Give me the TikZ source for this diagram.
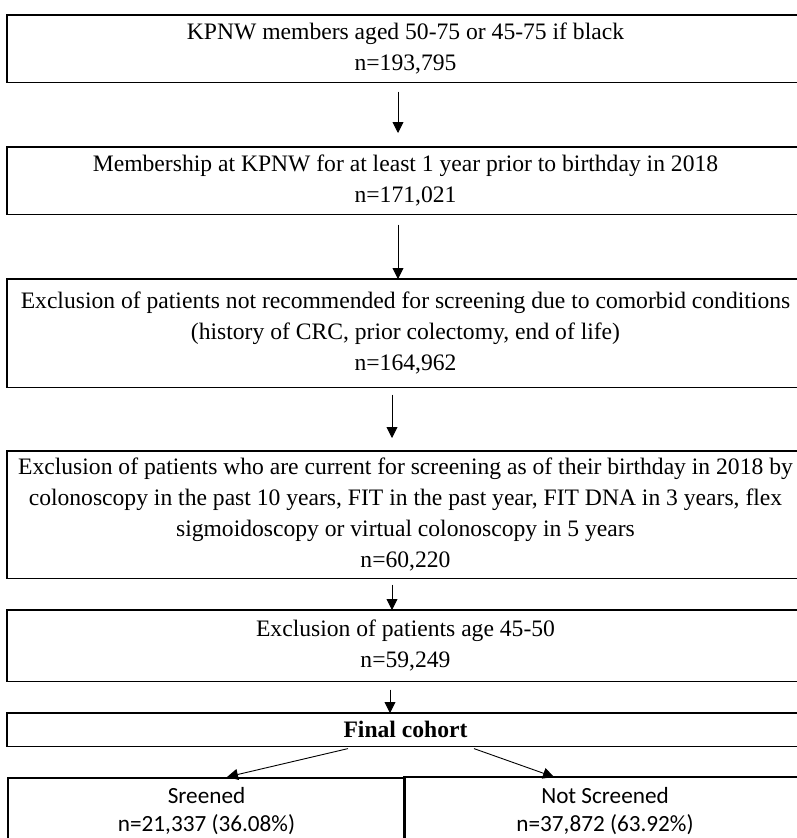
\documentclass[tikz,border=0pt]{standalone}
\usepackage{fontspec}
\setmainfont{Liberation Serif}
\newfontfamily\calibrifont{Carlito}
\usetikzlibrary{arrows.meta}
\begin{document}
\begin{tikzpicture}[x=1pt,y=-1pt]
\tikzset{
  flowbox/.style={line width=1.6pt, minimum width=795pt, inner sep=0pt,
    align=center, anchor=north, font=\fontsize{23.6}{31}\selectfont},
  splitbox/.style={line width=1.6pt, inner sep=0pt, minimum height=66pt,
    align=center, anchor=north, font=\calibrifont\fontsize{23.2}{28}\selectfont},
  frame/.style={draw=black, line width=1.6pt},
  arrow/.style={-{Triangle[length=11pt,width=11pt]}, line width=0.9pt}
}
\useasboundingbox (0,0) rectangle (797,838);
% main chain
\node[flowbox, minimum height=66pt] (members) at (405.5,15)
  {KPNW members aged 50-75 or 45-75 if black\\n=193,795};
\node[flowbox, minimum height=66pt] (membership) at (405.5,147)
  {Membership at KPNW for at least 1 year prior to birthday in 2018\\n=171,021};
\node[flowbox, minimum height=107pt] (comorbid) at (405.5,279)
  {Exclusion of patients not recommended for screening due to comorbid conditions\\(history of CRC, prior colectomy, end of life)\\n=164,962};
\node[flowbox, minimum height=126pt] (current) at (405.5,451)
  {Exclusion of patients who are current for screening as of their birthday in 2018 by\\colonoscopy in the past 10 years, FIT in the past year, FIT DNA in 3 years, flex\\sigmoidoscopy or virtual colonoscopy in 5 years\\n=60,220};
\node[flowbox, minimum height=70pt] (age) at (405.5,610)
  {Exclusion of patients age 45-50\\n=59,249};
\node[flowbox, minimum height=32pt] (final) at (405.5,713)
  {\textbf{Final cohort}};
% split
\node[splitbox, draw=black, minimum width=397pt] (screened) at (206.5,777)
  {Sreened\\n=21,337 (36.08\%)};
\node[splitbox, minimum width=400pt] (notscreened) at (605,777)
  {Not Screened\\n=37,872 (63.92\%)};
% frames run off the right edge
\foreach \n in {members,membership,comorbid,current,age,final,notscreened}
  \draw[frame] ([xshift=30pt]\n.north east) -- (\n.north west) -- (\n.south west) -- ([xshift=30pt]\n.south east);
% arrows
\draw[arrow] ([xshift=-7.5pt,yshift=-9pt]members.south) -- ([xshift=-7.5pt,yshift=14pt]membership.north);
\draw[arrow] ([xshift=-7.5pt,yshift=-10pt]membership.south) -- ([xshift=-7.5pt]comorbid.north);
\draw[arrow] ([xshift=-13.5pt,yshift=-7pt]comorbid.south) -- ([xshift=-13.5pt,yshift=13pt]current.north);
\draw[arrow] ([xshift=-13.5pt,yshift=-6pt]current.south) -- ([xshift=-13.5pt]age.north);
\draw[arrow] ([xshift=-15.5pt,yshift=-8pt]age.south) -- ([xshift=-15.5pt]final.north);
\draw[arrow] ([xshift=-57.5pt,yshift=-2pt]final.south) -- ([xshift=20.5pt]screened.north);
\draw[arrow] ([xshift=68.5pt,yshift=-2pt]final.south) -- ([xshift=-51pt]notscreened.north);
\end{tikzpicture}
\end{document}
